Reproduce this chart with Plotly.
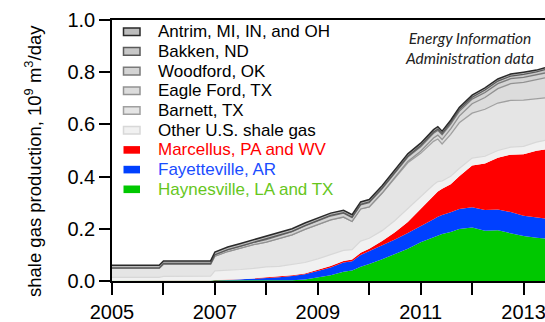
import plotly.graph_objects as go

# Monthly sample dates of US shale gas production (10^9 m^3/day)
dates = [
    "2005-01", "2005-12", "2006-01", "2006-12", "2007-01",
    "2007-04", "2007-07", "2007-10", "2008-01", "2008-04",
    "2008-07", "2008-10", "2009-01", "2009-04", "2009-07",
    "2009-09", "2009-11", "2010-01", "2010-04", "2010-07",
    "2010-10", "2011-01", "2011-04", "2011-05", "2011-06",
    "2011-08", "2011-10", "2012-01", "2012-04", "2012-07",
    "2012-10", "2013-01", "2013-04", "2013-06",
]

haynesville = [0.001, 0.001, 0.001, 0.001, 0.001, 0.001, 0.001, 0.001, 0.002, 0.002,
               0.003, 0.006, 0.013, 0.022, 0.035, 0.040, 0.055, 0.065, 0.083, 0.103,
               0.124, 0.148, 0.168, 0.175, 0.180, 0.188, 0.199, 0.205, 0.193, 0.194,
               0.184, 0.172, 0.166, 0.163]
fayetteville = [0.0, 0.0, 0.0, 0.0, 0.002, 0.003, 0.005, 0.007, 0.010, 0.012,
                0.016, 0.020, 0.025, 0.030, 0.036, 0.036, 0.045, 0.049, 0.052, 0.056,
                0.060, 0.064, 0.069, 0.071, 0.073, 0.075, 0.077, 0.078, 0.079, 0.080,
                0.080, 0.078, 0.077, 0.076]
marcellus = [0.0, 0.0, 0.0, 0.0, 0.001, 0.001, 0.001, 0.002, 0.002, 0.002,
             0.003, 0.003, 0.004, 0.005, 0.006, 0.006, 0.008, 0.010, 0.018, 0.028,
             0.042, 0.065, 0.092, 0.097, 0.100, 0.108, 0.125, 0.160, 0.178, 0.198,
             0.220, 0.236, 0.256, 0.265]
other = [0.013, 0.013, 0.017, 0.018, 0.035, 0.036, 0.037, 0.038, 0.040, 0.040,
         0.041, 0.042, 0.043, 0.044, 0.040, 0.038, 0.045, 0.040, 0.040, 0.045,
         0.052, 0.045, 0.040, 0.038, 0.030, 0.030, 0.030, 0.028, 0.028, 0.028,
         0.029, 0.030, 0.033, 0.035]
barnett = [0.034, 0.034, 0.046, 0.045, 0.056, 0.072, 0.082, 0.091, 0.095, 0.108,
           0.114, 0.127, 0.130, 0.133, 0.128, 0.108, 0.123, 0.120, 0.143, 0.161,
           0.175, 0.167, 0.166, 0.163, 0.142, 0.161, 0.175, 0.172, 0.180, 0.182,
           0.179, 0.177, 0.165, 0.163]
eagle_ford = [0.0, 0.0, 0.0, 0.0, 0.0, 0.0, 0.0, 0.0, 0.0, 0.0,
              0.0, 0.0, 0.0, 0.0, 0.0, 0.0, 0.0, 0.0, 0.001, 0.003,
              0.005, 0.008, 0.013, 0.015, 0.017, 0.021, 0.026, 0.036, 0.045, 0.055,
              0.064, 0.068, 0.073, 0.076]
woodford = [0.002, 0.002, 0.003, 0.003, 0.006, 0.007, 0.008, 0.009, 0.010, 0.011,
            0.012, 0.013, 0.014, 0.015, 0.015, 0.015, 0.016, 0.016, 0.016, 0.017,
            0.017, 0.017, 0.018, 0.018, 0.018, 0.018, 0.018, 0.018, 0.019, 0.019,
            0.019, 0.019, 0.019, 0.019]
bakken = [0.0, 0.0, 0.0, 0.0, 0.0, 0.0, 0.0, 0.0, 0.001, 0.001,
          0.001, 0.001, 0.002, 0.002, 0.002, 0.002, 0.002, 0.003, 0.003, 0.003,
          0.003, 0.005, 0.005, 0.005, 0.005, 0.007, 0.007, 0.007, 0.010, 0.010,
          0.010, 0.012, 0.012, 0.013]
antrim = [0.010, 0.010, 0.010, 0.010, 0.010, 0.010, 0.010, 0.010, 0.010, 0.010,
          0.010, 0.010, 0.009, 0.009, 0.009, 0.009, 0.009, 0.009, 0.009, 0.009,
          0.009, 0.009, 0.009, 0.009, 0.009, 0.008, 0.008, 0.008, 0.008, 0.008,
          0.008, 0.008, 0.007, 0.007]

year_ticks = [2005, 2006, 2007, 2008, 2009, 2010, 2011, 2012, 2013]
year_labels = ["2005", "", "2007", "", "2009", "", "2011", "", "2013"]
y_ticks = [0.0, 0.2, 0.4, 0.6, 0.8, 1.0]


def decimal_year(ym):
    """'YYYY-MM' (first of month) -> fractional year."""
    y, m = ym.split("-")
    return int(y) + (int(m) - 1) / 12.0


x_years = [decimal_year(d) for d in dates]

# (name, values, fill colour, edge colour, edge width, legend text colour)
plays = [
    ("Haynesville, LA and TX", haynesville, "#00c800", "#00c800", 0, "#66c61c"),
    ("Fayetteville, AR", fayetteville, "#0040ff", "#0040ff", 0, "#1a4dff"),
    ("Marcellus, PA and WV", marcellus, "#ff0000", "#ff0000", 0, "#ff0000"),
    ("Other U.S. shale gas", other, "#f1f1f1", "#d8d8d8", 1.2, "#000000"),
    ("Barnett, TX", barnett, "#e5e5e5", "#a0a0a0", 1.3, "#000000"),
    ("Eagle Ford, TX", eagle_ford, "#dcdcdc", "#929292", 1.3, "#000000"),
    ("Woodford, OK", woodford, "#d4d4d4", "#7a7a7a", 1.3, "#000000"),
    ("Bakken, ND", bakken, "#c8c8c8", "#5a5a5a", 1.3, "#000000"),
    ("Antrim, MI, IN, and OH", antrim, "#bdbdbd", "#2a2a2a", 1.5, "#000000"),
]

FONT = "Liberation Sans, Arial, sans-serif"
W, H = 545, 322
ML, MR, MT, MB = 112, 0, 20, 41


def px_x(px):
    return (px - ML) / (W - ML - MR)


def px_y(py):
    return (H - MB - py) / (H - MT - MB)


fig = go.Figure()
for name, vals, fill, edge, width, _ in plays:
    fig.add_trace(go.Scatter(
        x=x_years, y=vals, name=name, stackgroup="plays", mode="lines",
        fillcolor=fill, line=dict(color=edge, width=width),
        showlegend=False, hoverinfo="skip",
    ))

# Hand-drawn legend: swatches plus coloured labels, top entry first
shapes = []
annotations = []
for i, (name, _, fill, edge, width, tcol) in enumerate(reversed(plays)):
    cy = 31.7 + i * 19.7
    shapes.append(dict(
        type="rect", xref="paper", yref="paper",
        x0=px_x(123.5), x1=px_x(140.0), y0=px_y(cy + 3.8), y1=px_y(cy - 3.8),
        fillcolor=fill,
        line=dict(color=edge if width else fill, width=1.5 if width else 0),
    ))
    annotations.append(dict(
        text=name, xref="paper", yref="paper", x=px_x(155.5), y=px_y(cy),
        xanchor="left", yanchor="middle", showarrow=False,
        font=dict(family=FONT, size=17, color=tcol),
    ))

annotations.append(dict(
    text="<i>Energy Information<br>Administration data</i>",
    xref="paper", yref="paper", x=px_x(469), y=px_y(48),
    xanchor="center", yanchor="middle", align="center", showarrow=False,
    font=dict(family="Lato, Open Sans, sans-serif", size=15.5, color="#222222"),
))
annotations.append(dict(
    text="shale gas production, 10<sup>9</sup> m<sup>3</sup>/day",
    xref="paper", yref="paper", x=px_x(33), y=px_y(161),
    xanchor="center", yanchor="middle", textangle=-90, showarrow=False,
    font=dict(family=FONT, size=18.5, color="#000000"),
))

fig.update_layout(
    width=W, height=H,
    margin=dict(l=ML, r=MR, t=MT, b=MB, pad=0),
    paper_bgcolor="white", plot_bgcolor="white",
    shapes=shapes, annotations=annotations,
    font=dict(family=FONT, color="#000000"),
)
fig.update_xaxes(
    range=[x_years[0], x_years[-1]],
    tickmode="array", tickvals=year_ticks, ticktext=year_labels,
    ticks="outside", ticklen=12, tickwidth=1.5, tickcolor="black",
    ticklabeloverflow="allow",
    showline=True, linecolor="black", linewidth=1.5, mirror=True,
    showgrid=False, zeroline=False,
    tickfont=dict(family=FONT, size=20, color="black"),
)
fig.update_yaxes(
    range=[0, 1.0], tickmode="array", tickvals=y_ticks, tickformat=".1f",
    ticks="outside", ticklen=11, tickwidth=1.5, tickcolor="black",
    showline=True, linecolor="black", linewidth=1.5,
    showgrid=False, zeroline=False,
    tickfont=dict(family=FONT, size=20, color="black"),
)

fig.write_html("out.html")
